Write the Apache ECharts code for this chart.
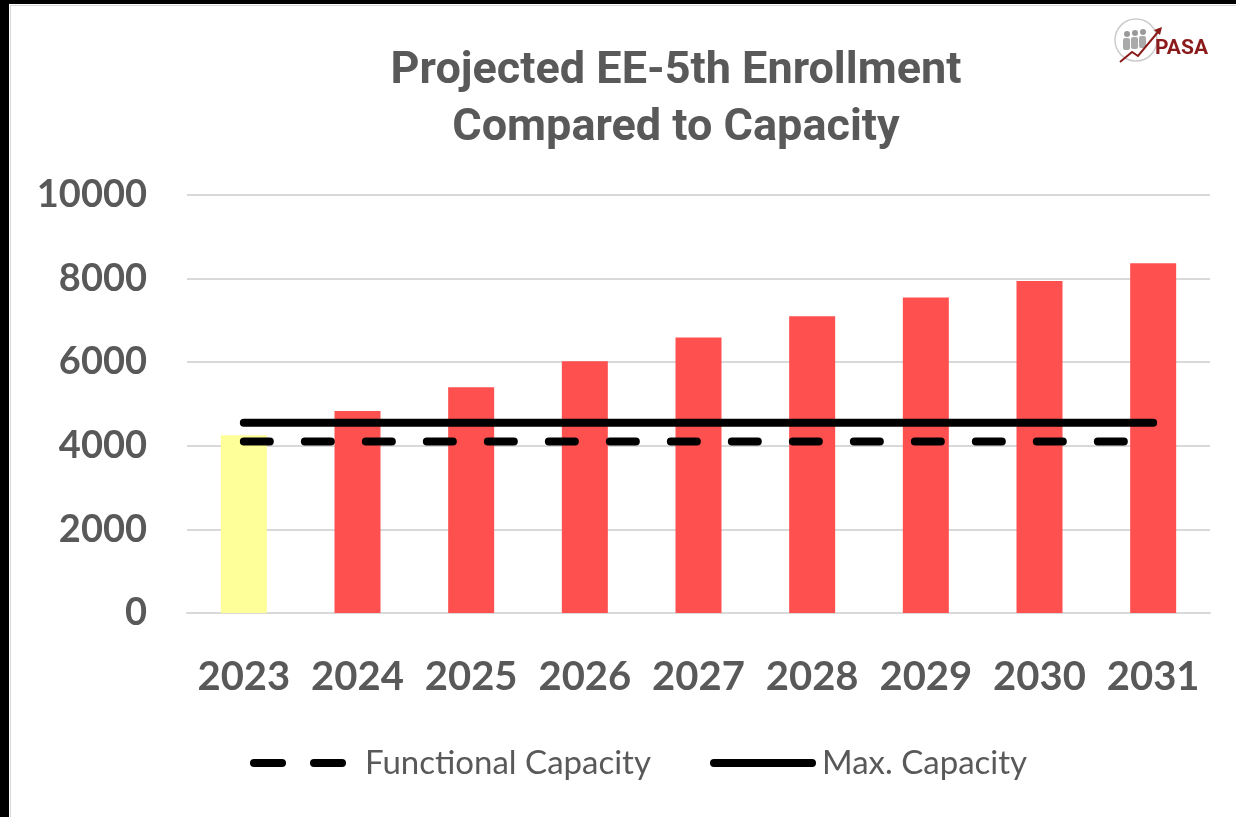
<!DOCTYPE html>
<html>
<head>
<meta charset="utf-8">
<script src="https://cdn.jsdelivr.net/npm/echarts@6/dist/echarts.min.js"></script>
<style>
  html, body { margin: 0; padding: 0; background: #fff; }
  #main { width: 1236px; height: 817px; }
</style>
</head>
<body>
<div id="main"></div>
<script>
const years = ["2023", "2024", "2025", "2026", "2027", "2028", "2029", "2030", "2031"];
const enrollment = [4250, 4830, 5400, 6020, 6590, 7100, 7550, 7940, 8370];
const functionalCapacity = [4100, 4100, 4100, 4100, 4100, 4100, 4100, 4100, 4100];
const maxCapacity = [4550, 4550, 4550, 4550, 4550, 4550, 4550, 4550, 4550];

const chart = echarts.init(document.getElementById("main"));

const option = {
  backgroundColor: "#fff",
  animation: false,
  title: {
    text: "Projected EE-5th Enrollment\nCompared to Capacity",
    left: 671,
    top: 38,
    textAlign: "center",
    textStyle: {
      fontFamily: "Roboto",
      fontWeight: "bold",
      fontSize: 45,
      lineHeight: 57,
      color: "#595959",
    },
  },
  grid: {
    left: 187,
    right: 26,
    top: 195,
    bottom: 204,
  },
  xAxis: {
    type: "category",
    data: years,
    axisTick: { show: false },
    axisLine: { lineStyle: { color: "#d9d9d9", width: 2 } },
    axisLabel: {
      interval: 0,
      margin: 44,
      fontFamily: "Lato",
      fontWeight: "bold",
      fontSize: 40,
      color: "#595959",
    },
  },
  yAxis: {
    type: "value",
    min: 0,
    max: 10000,
    interval: 2000,
    axisLine: { show: false },
    axisTick: { show: false },
    splitLine: { lineStyle: { color: "#d9d9d9", width: 2 } },
    axisLabel: {
      margin: 40,
      formatter: (v) => String(v),
      fontFamily: "Lato",
      fontWeight: "bold",
      fontSize: 38,
      color: "#595959",
    },
  },
  series: [
    {
      name: "Enrollment",
      type: "bar",
      barWidth: 46,
      data: enrollment.map((v, i) => ({
        value: v,
        itemStyle: { color: i === 0 ? "#ffff99" : "#ff5050" },
      })),
    },
    {
      name: "Functional Capacity",
      type: "line",
      data: functionalCapacity,
      symbol: "none",
      lineStyle: { color: "#000", width: 8, type: [26, 35], cap: "round" },
      itemStyle: { color: "#000" },
    },
    {
      name: "Max. Capacity",
      type: "line",
      data: maxCapacity,
      symbol: "none",
      lineStyle: { color: "#000", width: 8, cap: "round" },
      itemStyle: { color: "#000" },
    },
  ],
  graphic: [
    { type: "rect", left: 0, top: 0, shape: { width: 9, height: 817 }, style: { fill: "#000" } },
    { type: "rect", left: 0, top: 0, shape: { width: 1236, height: 4 }, style: { fill: "#000" } },
    { type: "rect", left: 10, top: 5, shape: { width: 1, height: 812 }, style: { fill: "#d9d9d9" } },
    { type: "rect", left: 10, top: 5, shape: { width: 1226, height: 1 }, style: { fill: "#d9d9d9" } },
    // legend
    { type: "line", shape: { x1: 254, y1: 763, x2: 282, y2: 763 }, style: { stroke: "#000", lineWidth: 8, lineCap: "round" } },
    { type: "line", shape: { x1: 314, y1: 763, x2: 342, y2: 763 }, style: { stroke: "#000", lineWidth: 8, lineCap: "round" } },
    {
      type: "text",
      x: 365,
      y: 763,
      style: { text: "Functional Capacity", font: "33px Lato", fill: "#595959", textVerticalAlign: "middle" },
    },
    { type: "line", shape: { x1: 714, y1: 763, x2: 812, y2: 763 }, style: { stroke: "#000", lineWidth: 8, lineCap: "round" } },
    {
      type: "text",
      x: 822,
      y: 763,
      style: { text: "Max. Capacity", font: "33px Lato", fill: "#595959", textVerticalAlign: "middle" },
    },
    // logo
    { type: "circle", shape: { cx: 1136, cy: 40, r: 21 }, style: { fill: "none", stroke: "#cccccc", lineWidth: 1.5 } },
    { type: "circle", shape: { cx: 1127, cy: 34, r: 3 }, style: { fill: "#999" } },
    { type: "circle", shape: { cx: 1135, cy: 33, r: 3 }, style: { fill: "#999" } },
    { type: "circle", shape: { cx: 1143, cy: 32, r: 3 }, style: { fill: "#999" } },
    { type: "rect", shape: { x: 1123, y: 38, width: 7, height: 12, r: 2 }, style: { fill: "#aaa" } },
    { type: "rect", shape: { x: 1131, y: 37, width: 7, height: 12, r: 2 }, style: { fill: "#aaa" } },
    { type: "rect", shape: { x: 1139, y: 36, width: 7, height: 12, r: 2 }, style: { fill: "#aaa" } },
    {
      type: "polyline",
      shape: { points: [[1120, 62], [1132, 52], [1138, 56], [1158, 32]] },
      style: { stroke: "#8b1a1a", lineWidth: 2, fill: "none" },
    },
    { type: "polygon", shape: { points: [[1162, 27], [1154, 30], [1160, 35]] }, style: { fill: "#8b1a1a" } },
    {
      type: "text",
      x: 1155,
      y: 49,
      style: { text: "PASA", font: "bold 21px Roboto", fill: "#8b1a1a", textVerticalAlign: "middle" },
    },
  ],
};

chart.setOption(option);
</script>
</body>
</html>
